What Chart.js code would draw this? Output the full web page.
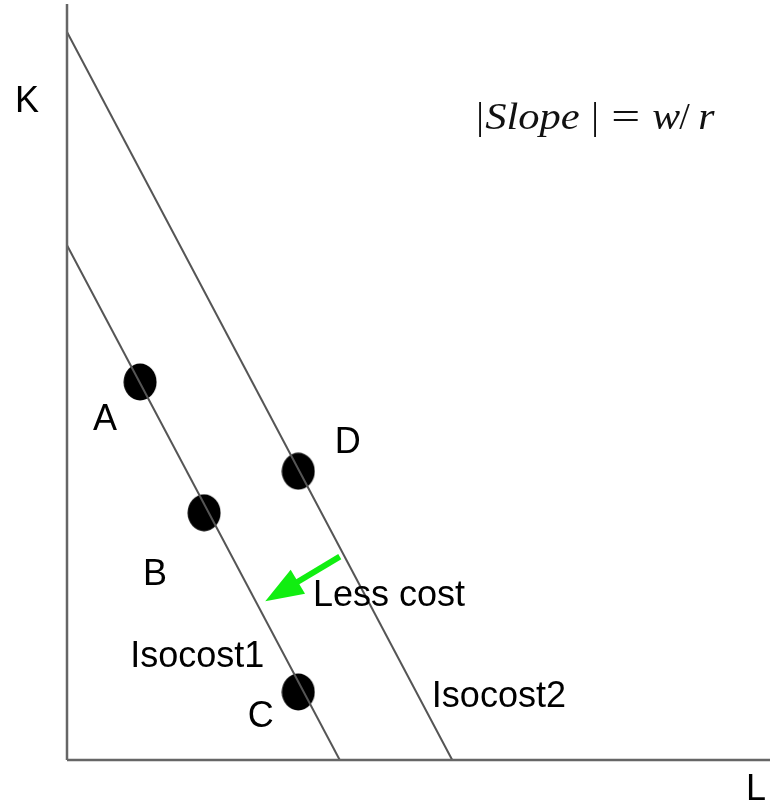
<!DOCTYPE html>
<html>
<head>
<meta charset="utf-8">
<script src="https://cdn.jsdelivr.net/npm/chart.js@4"></script>
<style>
html,body{margin:0;padding:0;background:#fff;}
#wrap{width:770px;height:804px;position:relative;}
</style>
</head>
<body>
<div id="wrap"><canvas id="c" width="770" height="804"></canvas></div>
<script>
// ---- data (axis units: L 0..100, K 0..100) ----
const isocost1 = [{x:0, y:68.1}, {x:38.8, y:0}];
const isocost2 = [{x:0, y:96.3}, {x:54.8, y:0}];
const pointNames = ['A','B','C','D'];
const pointL = [10.4, 19.5, 32.9, 32.9];
const pointK = [50.0, 32.7, 9.0, 38.2];
const axisL = [{x:0, y:0}, {x:100, y:0}];
const axisK = [{x:0, y:0}, {x:0, y:100}];
const arrowFrom = {x:38.8, y:26.9};
const arrowTo = {x:28.2, y:21.0};
// text labels (left, baseline) in axis units
const labelTexts = ['K','L','A','B','C','D','Isocost1','Isocost2','Less cost'];
const labelL = [-7.4, 96.6, 3.7, 10.8, 25.7, 38.1, 9.0, 51.9, 35.0];
const labelK = [85.7, -5.3, 43.7, 23.1, 4.4, 40.6, 12.3, 7.0, 20.4];
const slopeAt = {x:58.2, y:83.5};
const slopeParts = ['|', 'Slope', '|', '=', 'w', '/', 'r'];

// ellipse dot style
const dot = document.createElement('canvas');
dot.width = 34; dot.height = 38;
(function(){
  const g = dot.getContext('2d');
  g.fillStyle = '#000';
  g.beginPath();
  g.ellipse(17, 19, 16.5, 18.5, 0, 0, Math.PI*2);
  g.fill();
})();

const textPlugin = {
  id: 'texts',
  afterDatasetsDraw(chart) {
    const ctx = chart.ctx;
    const xs = chart.scales.x, ys = chart.scales.y;
    ctx.save();
    // arrow
    const x0 = xs.getPixelForValue(arrowFrom.x), y0 = ys.getPixelForValue(arrowFrom.y);
    const x1 = xs.getPixelForValue(arrowTo.x), y1 = ys.getPixelForValue(arrowTo.y);
    const ang = Math.atan2(y1 - y0, x1 - x0);
    const headLen = 38, headHalf = 14;
    const bx = x1 - headLen*Math.cos(ang), by = y1 - headLen*Math.sin(ang);
    ctx.strokeStyle = '#11ee11';
    ctx.fillStyle = '#11ee11';
    ctx.lineWidth = 6;
    ctx.beginPath(); ctx.moveTo(x0, y0); ctx.lineTo(bx + 2*Math.cos(ang), by + 2*Math.sin(ang)); ctx.stroke();
    ctx.beginPath();
    ctx.moveTo(x1, y1);
    ctx.lineTo(bx + headHalf*Math.sin(ang), by - headHalf*Math.cos(ang));
    ctx.lineTo(bx - headHalf*Math.sin(ang), by + headHalf*Math.cos(ang));
    ctx.closePath(); ctx.fill();

    // labels
    ctx.fillStyle = '#000';
    ctx.font = '36px "Liberation Sans", Arial, sans-serif';
    ctx.textAlign = 'left';
    ctx.textBaseline = 'alphabetic';
    labelTexts.forEach((t, i) => {
      ctx.fillText(t, xs.getPixelForValue(labelL[i]), ys.getPixelForValue(labelK[i]));
    });
    // slope formula (LaTeX-like spacing)
    const offs = [0, 9, 115, 135, 176, 203, 222];
    const ital = [false, true, false, false, true, false, true];
    const stretch = [1, 1.12, 1, 1.35, 1.1, 1, 1.1];
    const sx = xs.getPixelForValue(slopeAt.x);
    const sy = ys.getPixelForValue(slopeAt.y);
    slopeParts.forEach((s, i) => {
      ctx.save();
      ctx.translate(sx + offs[i], sy);
      ctx.scale(stretch[i], 1);
      ctx.font = (ital[i] ? 'italic ' : '') + '38px "Liberation Serif", "DejaVu Serif", serif';
      ctx.fillStyle = '#111';
      ctx.fillText(s, 0, 0);
      ctx.restore();
    });
    ctx.restore();
  }
};

new Chart(document.getElementById('c'), {
  type: 'scatter',
  data: {
    datasets: [
      {data: axisK, showLine: true, borderColor: '#666', borderWidth: 2.5, pointRadius: 0, clip: false},
      {data: axisL, showLine: true, borderColor: '#666', borderWidth: 2.5, pointRadius: 0, clip: false},
      {data: isocost1, showLine: true, borderColor: '#555', borderWidth: 2, pointRadius: 0, clip: false},
      {data: isocost2, showLine: true, borderColor: '#555', borderWidth: 2, pointRadius: 0, clip: false},
      {data: pointL.map((v, i) => ({x: v, y: pointK[i]})), pointStyle: dot, pointRadius: 17, backgroundColor: '#000', borderWidth: 0, clip: false, order: 1}
    ]
  },
  options: {
    responsive: false,
    animation: false,
    layout: {autoPadding: false, padding: {left: 67, top: 4, right: 0, bottom: 44}},
    scales: {
      x: {type: 'linear', min: 0, max: 100, display: false},
      y: {type: 'linear', min: 0, max: 100, display: false}
    },
    plugins: {legend: {display: false}, tooltip: {enabled: false}}
  },
  plugins: [textPlugin]
});
</script>
</body>
</html>
